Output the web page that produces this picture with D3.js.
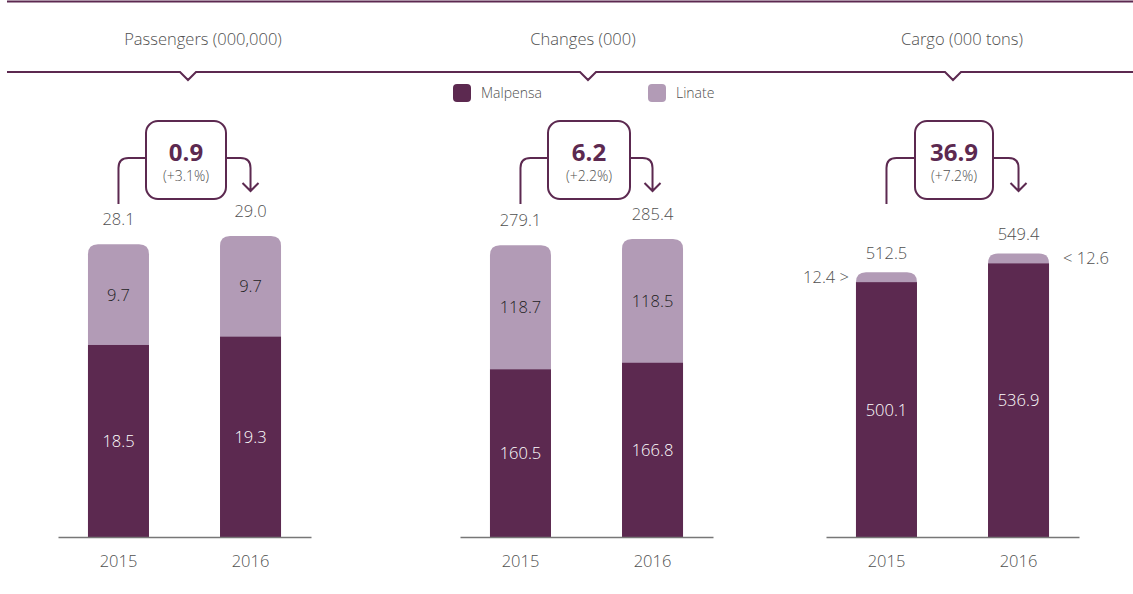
<!DOCTYPE html>
<html>
<head>
<meta charset="utf-8">
<script src="https://cdn.jsdelivr.net/npm/d3@7"></script>
<style>
  body { margin: 0; background: #fff; }
  svg { display: block; font-family: "Open Sans", "Noto Sans", sans-serif; font-weight: 300; }
</style>
</head>
<body>
<div id="chart"></div>
<script>
// data
var years = ["2015", "2016"];
var panelTitles = ["Passengers (000,000)", "Changes (000)", "Cargo (000 tons)"];
var malpensa = [[18.5, 19.3], [160.5, 166.8], [500.1, 536.9]];
var linate = [[9.7, 9.7], [118.7, 118.5], [12.4, 12.6]];
var totals = [["28.1", "29.0"], ["279.1", "285.4"], ["512.5", "549.4"]];
var deltas = ["0.9", "6.2", "36.9"];
var deltaPct = ["(+3.1%)", "(+2.2%)", "(+7.2%)"];
var seriesNames = ["Malpensa", "Linate"];

// layout
var width = 1133, height = 594;
var dark = "#5c2950", light = "#b29bb6", grey = "#505050";
var baseY = 537;
var panelCx = [182, 584, 950];
var boxCx = [186, 589, 954];
var titleCx = [203, 583, 962];
var notchCx = [188, 588, 953];
var yMax = [29.0, 285.3, 549.5];
var yTop = [236, 239, 257];
var totalGap = [19, 19, 13];
var boxW = [80, 82, 78];

var svg = d3.select("#chart").append("svg")
  .attr("width", width)
  .attr("height", height);

// top rule
svg.append("line")
  .attr("x1", 7).attr("x2", width)
  .attr("y1", 1.5).attr("y2", 1.5)
  .attr("stroke", dark).attr("stroke-width", 2);

// second rule with notches
var rulePts = [[7, 72]];
notchCx.forEach(function(n){
  rulePts.push([n - 8, 72], [n, 80], [n + 8, 72]);
});
rulePts.push([width, 72]);
svg.append("path")
  .attr("d", d3.line()(rulePts))
  .attr("fill", "none")
  .attr("stroke", dark).attr("stroke-width", 2);

// titles
svg.selectAll(".title")
  .data(panelTitles)
  .enter()
  .append("text")
    .attr("class", "title")
    .attr("x", function(d, i){ return titleCx[i]; })
    .attr("y", 45)
    .attr("text-anchor", "middle")
    .attr("fill", grey)
    .style("font-size", "16.5px")
    .text(function(d){ return d; });

// legend
var legendX = [453, 648];
var legend = svg.selectAll(".legend")
  .data(seriesNames)
  .enter()
  .append("g")
    .attr("class", "legend")
    .attr("transform", function(d, i){ return "translate(" + legendX[i] + ",84)"; });
legend.append("rect")
  .attr("width", 18).attr("height", 18)
  .attr("rx", 4)
  .attr("fill", function(d, i){ return i === 0 ? dark : light; });
legend.append("text")
  .attr("x", 28).attr("y", 14)
  .attr("fill", grey)
  .style("font-size", "14px")
  .text(function(d){ return d; });

// bar with rounded top corners
function topRounded(x, y, w, h, r){
  r = Math.min(r, h);
  return "M" + x + "," + (y + h) +
    "V" + (y + r) +
    "Q" + x + "," + y + " " + (x + r) + "," + y +
    "H" + (x + w - r) +
    "Q" + (x + w) + "," + y + " " + (x + w) + "," + (y + r) +
    "V" + (y + h) + "Z";
}

panelTitles.forEach(function(title, p){
  var cx = panelCx[p];
  var g = svg.append("g");

  var x = d3.scaleBand()
    .domain(years)
    .range([cx - 124, cx + 129])
    .paddingInner(0.538)
    .paddingOuter(0.227);
  var y = d3.scaleLinear()
    .domain([0, yMax[p]])
    .range([baseY, yTop[p]]);

  var rows = years.map(function(yr, i){
    var m = malpensa[p][i], l = linate[p][i];
    var mTop = y(m);
    var lTop = Math.min(y(m + l), mTop - 10);
    return { year: yr, m: m, l: l, mTop: mTop, lTop: lTop, total: totals[p][i] };
  });

  var bw = x.bandwidth();

  // linate (top, rounded)
  g.selectAll(".lin")
    .data(rows)
    .enter()
    .append("path")
      .attr("d", function(d){ return topRounded(x(d.year), d.lTop, bw, baseY - d.lTop, 10); })
      .attr("fill", light);

  // malpensa
  g.selectAll(".mal")
    .data(rows)
    .enter()
    .append("rect")
      .attr("x", function(d){ return x(d.year); })
      .attr("y", function(d){ return d.mTop; })
      .attr("width", bw)
      .attr("height", function(d){ return baseY - d.mTop; })
      .attr("fill", dark);

  // axis
  var axis = d3.axisBottom(x).tickSize(0).tickPadding(18);
  var ax = g.append("g")
    .attr("transform", "translate(0," + baseY + ")")
    .call(axis);
  ax.select(".domain").attr("stroke", "#777").attr("stroke-width", 1.5);
  ax.selectAll("text")
    .attr("fill", grey)
    .style("font-size", "16.5px")
    .style("font-weight", "300")
    .style("font-family", "'Open Sans', 'Noto Sans', sans-serif");

  // malpensa labels
  g.selectAll(".mlab")
    .data(rows)
    .enter()
    .append("text")
      .attr("x", function(d){ return x(d.year) + bw / 2; })
      .attr("y", function(d){ return (d.mTop + baseY) / 2 + 6; })
      .attr("text-anchor", "middle")
      .attr("fill", "#fff")
      .style("font-size", "16.5px")
      .text(function(d){ return d3.format(".1f")(d.m); });

  // linate labels
  if (p < 2) {
    g.selectAll(".llab")
      .data(rows)
      .enter()
      .append("text")
        .attr("x", function(d){ return x(d.year) + bw / 2; })
        .attr("y", function(d){ return (d.lTop + d.mTop) / 2 + 6; })
        .attr("text-anchor", "middle")
        .attr("fill", "#1e1e1e")
        .style("font-size", "16.5px")
        .text(function(d){ return d3.format(".1f")(d.l); });
  } else {
    g.selectAll(".llab")
      .data(rows)
      .enter()
      .append("text")
        .attr("x", function(d, i){ return i === 0 ? x(d.year) - 7 : x(d.year) + bw + 14; })
        .attr("y", function(d){ return (d.lTop + d.mTop) / 2 + 6; })
        .attr("text-anchor", function(d, i){ return i === 0 ? "end" : "start"; })
        .attr("fill", grey)
        .style("font-size", "16.5px")
        .text(function(d, i){
          var v = d3.format(".1f")(d.l);
          return i === 0 ? v + " >" : "< " + v;
        });
  }

  // totals
  g.selectAll(".tlab")
    .data(rows)
    .enter()
    .append("text")
      .attr("x", function(d){ return x(d.year) + bw / 2; })
      .attr("y", function(d){ return d.lTop - totalGap[p]; })
      .attr("text-anchor", "middle")
      .attr("fill", grey)
      .style("font-size", "16.5px")
      .text(function(d){ return d.total; });

  // delta box and connectors
  var bc = boxCx[p];
  var bxL = bc - boxW[p] / 2, bxR = bc + boxW[p] / 2;
  var lx = x(years[0]) + bw / 2, rx = x(years[1]) + bw / 2;
  var ly = 158, r = 10;
  g.append("rect")
    .attr("x", bxL).attr("y", 121)
    .attr("width", boxW[p]).attr("height", 78)
    .attr("rx", 12)
    .attr("fill", "#fff")
    .attr("stroke", dark).attr("stroke-width", 2);
  g.append("path")
    .attr("d", "M" + lx + ",204V" + (ly + r) + "Q" + lx + "," + ly + " " + (lx + r) + "," + ly + "H" + bxL)
    .attr("fill", "none").attr("stroke", dark).attr("stroke-width", 2);
  g.append("path")
    .attr("d", "M" + bxR + "," + ly + "H" + (rx - r) + "Q" + rx + "," + ly + " " + rx + "," + (ly + r) + "V191" +
      "M" + (rx - 8) + ",183L" + rx + ",191L" + (rx + 8) + ",183")
    .attr("fill", "none").attr("stroke", dark).attr("stroke-width", 2);
  g.append("text")
    .attr("x", bc).attr("y", 161)
    .attr("text-anchor", "middle")
    .attr("fill", dark)
    .style("font-size", "24px")
    .style("font-weight", "bold")
    .text(deltas[p]);
  g.append("text")
    .attr("x", bc).attr("y", 181)
    .attr("text-anchor", "middle")
    .attr("fill", grey)
    .style("font-size", "14px")
    .text(deltaPct[p]);
});
</script>
</body>
</html>
